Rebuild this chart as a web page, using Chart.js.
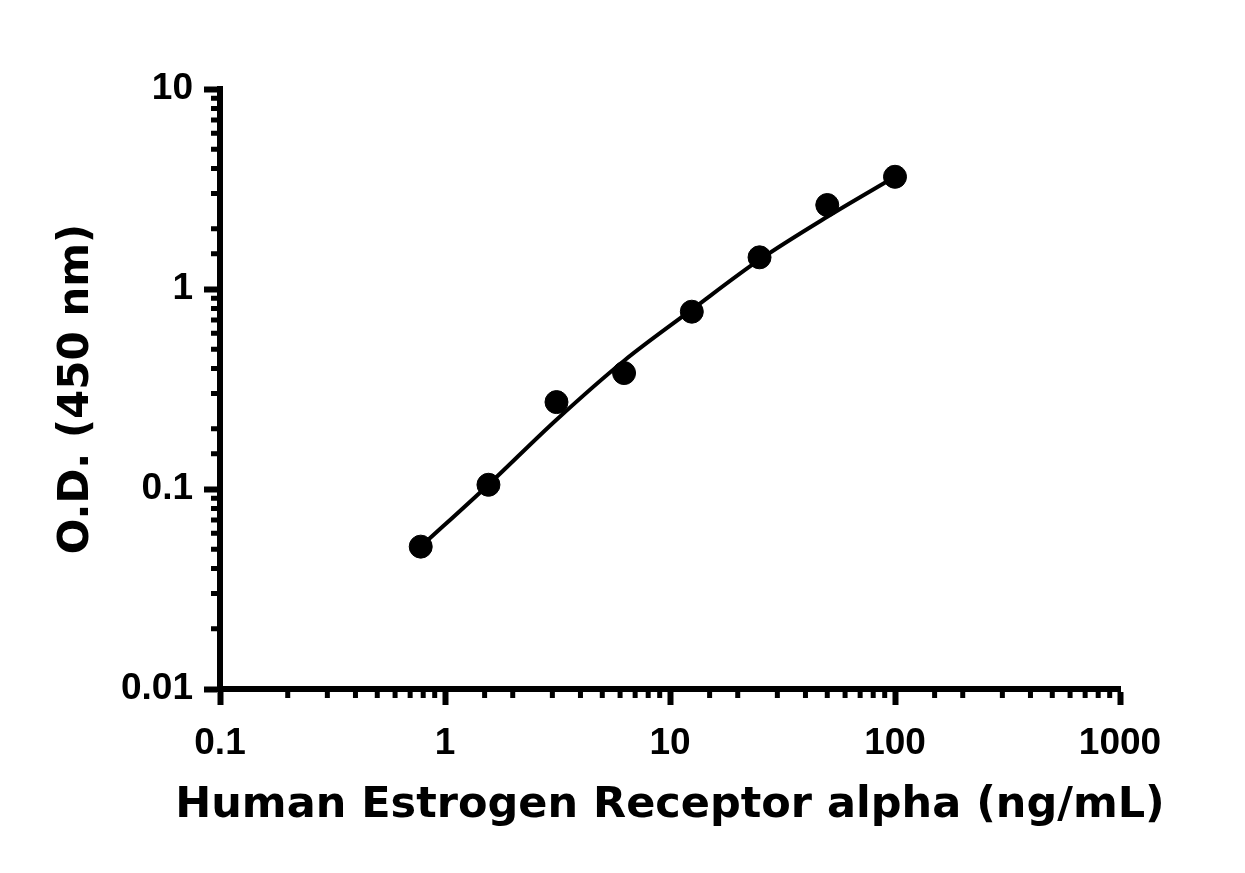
<!DOCTYPE html>
<html>
<head>
<meta charset="utf-8">
<script src="https://cdn.jsdelivr.net/npm/chart.js@4.4.1/dist/chart.umd.min.js"></script>
<style>
    html, body { margin: 0; padding: 0; background: #fff; }
    #wrap { width: 1245px; height: 873px; }
</style>
</head>
<body>
<div id="wrap"><canvas id="odChart"></canvas></div>
<script>
// standard curve readings (ng/mL vs O.D. 450 nm)
var concentrations = [0.78, 1.56, 3.13, 6.25, 12.5, 25, 50, 100];
var odValues = [0.0515, 0.105, 0.272, 0.38, 0.77, 1.44, 2.63, 3.64];

// fitted curve at the same concentrations
var fitConcentrations = [0.78, 1.56, 3.13, 6.25, 12.5, 25, 50, 100];
var fitValues = [0.0515, 0.1051, 0.222, 0.438, 0.788, 1.401, 2.298, 3.643];

var xTickLabels = ["0.1", "1", "10", "100", "1000"];
var yTickLabels = ["0.01", "0.1", "1", "10"];
var xTitle = "Human Estrogen Receptor alpha (ng/mL)";
var yTitle = "O.D. (450 nm)";

function isDecade(v) {
    var l = Math.log10(v);
    return Math.abs(l - Math.round(l)) < 1e-6;
}

function labelFor(list, v) {
    for (var i = 0; i < list.length; i++) {
        if (Math.abs(parseFloat(list[i]) - v) < v * 1e-6) return list[i];
    }
    return "";
}

var tickFont = { family: "'Liberation Sans', Arial, sans-serif", size: 37, weight: "bold" };
var titleFamily = "'DejaVu Sans', sans-serif";

// short minor ticks (one tick length per axis in the library),
// and the x title, which the axis title would squeeze to the axis width
var extras = {
    id: "extras",
    afterDraw: function (chart) {
        var ctx = chart.ctx;
        var xs = chart.scales.x;
        var ys = chart.scales.y;
        ctx.save();
        ctx.strokeStyle = "#000";
        ctx.lineWidth = 5;
        ctx.beginPath();
        xs.ticks.forEach(function (t) {
            if (isDecade(t.value)) return;
            var px = xs.getPixelForValue(t.value);
            ctx.moveTo(px, xs.top);
            ctx.lineTo(px, xs.top + 9);
        });
        ys.ticks.forEach(function (t) {
            if (isDecade(t.value)) return;
            var py = ys.getPixelForValue(t.value);
            ctx.moveTo(ys.right, py);
            ctx.lineTo(ys.right - 9, py);
        });
        ctx.stroke();

        ctx.fillStyle = "#000";
        ctx.font = "bold 43px " + titleFamily;
        ctx.textAlign = "center";
        ctx.textBaseline = "middle";
        ctx.fillText(xTitle, (xs.left + xs.right) / 2, xs.top + 117);
        ctx.restore();
    }
};

var data = {
    datasets: [
        {
            label: "Standard",
            data: concentrations.map(function (c, i) { return { x: c, y: odValues[i] }; }),
            backgroundColor: "#000",
            borderColor: "#000",
            pointRadius: 11.5,
            pointHoverRadius: 11.5,
            showLine: false,
            order: 0
        },
        {
            label: "Fit",
            data: fitConcentrations.map(function (c, i) { return { x: c, y: fitValues[i] }; }),
            borderColor: "#000",
            borderWidth: 4,
            pointRadius: 0,
            showLine: true,
            cubicInterpolationMode: "monotone",
            order: 1
        }
    ]
};

var options = {
    responsive: true,
    maintainAspectRatio: false,
    animation: false,
    layout: { padding: { left: 0, top: 89, right: 125, bottom: 0 } },
    plugins: {
        legend: { display: false },
        tooltip: { enabled: false }
    },
    scales: {
        x: {
            type: "logarithmic",
            position: "bottom",
            min: 0.1,
            max: 1000,
            border: { display: true, color: "#000", width: 6 },
            grid: {
                drawOnChartArea: false,
                drawTicks: true,
                tickLength: 16,
                tickWidth: 6,
                tickColor: function (c) { return c.tick && isDecade(c.tick.value) ? "#000" : "rgba(0,0,0,0)"; }
            },
            ticks: {
                autoSkip: false,
                maxRotation: 0,
                padding: 17,
                color: "#000",
                font: tickFont,
                callback: function (v) { return labelFor(xTickLabels, v); }
            },
            title: { display: false },
            afterFit: function (scale) { scale.height = 184; }
        },
        y: {
            type: "logarithmic",
            position: "left",
            min: 0.01,
            max: 10,
            border: { display: true, color: "#000", width: 6 },
            grid: {
                drawOnChartArea: false,
                drawTicks: true,
                tickLength: 16,
                tickWidth: 6,
                tickColor: function (c) { return c.tick && isDecade(c.tick.value) ? "#000" : "rgba(0,0,0,0)"; }
            },
            ticks: {
                autoSkip: false,
                padding: 11,
                color: "#000",
                font: tickFont,
                callback: function (v) { return labelFor(yTickLabels, v); }
            },
            title: {
                display: true,
                text: yTitle,
                color: "#000",
                font: { family: titleFamily, size: 42, weight: "bold" },
                padding: { top: 52, bottom: 0 }
            },
            afterFit: function (scale) { scale.width = 220; }
        }
    }
};

var ctx = document.getElementById("odChart").getContext("2d");
var odChart = new Chart(ctx, {
    type: "scatter",
    data: data,
    options: options,
    plugins: [extras]
});
</script>
</body>
</html>
